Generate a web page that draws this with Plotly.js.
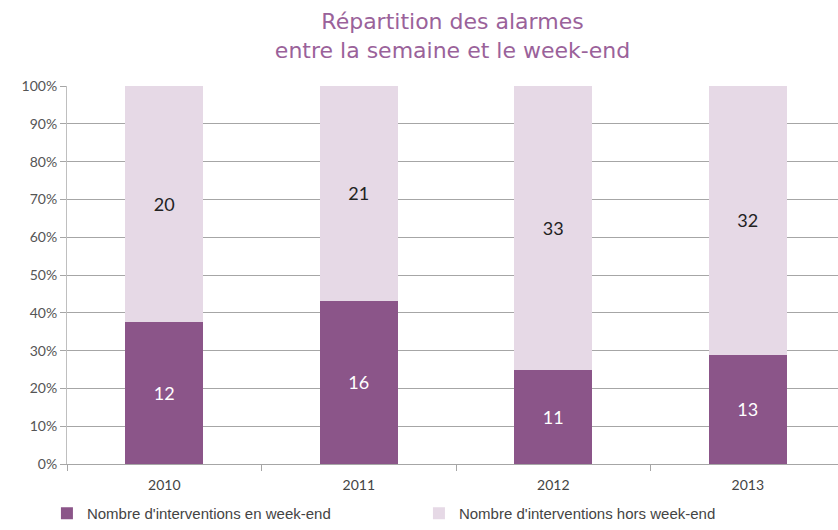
<!DOCTYPE html>
<html>
<head>
<meta charset="utf-8">
<script src="https://cdn.plot.ly/plotly-3.0.1.min.js"></script>
<style>html,body{margin:0;padding:0;background:#fff;}#chart{width:838px;height:530px;}</style>
</head>
<body>
<div id="chart"></div>
<script>
const years = ['2010', '2011', '2012', '2013'];
const weekend = [12, 16, 11, 13];
const weekdays = [20, 21, 33, 32];
const seriesNames = ["Nombre d'interventions en week-end", "Nombre d'interventions hors week-end"];

const font = 'Lato, "DejaVu Sans", sans-serif';

const traces = [
  {
    type: 'bar', x: years, y: weekend, name: seriesNames[0],
    marker: {color: '#8B5589'}, width: 0.4,
    text: weekend.map(String), texttemplate: '%{text}', textposition: 'inside',
    insidetextanchor: 'middle', textangle: 0,
    textfont: {color: '#ffffff', size: 18, family: font}, hoverinfo: 'none'
  },
  {
    type: 'bar', x: years, y: weekdays, name: seriesNames[1],
    marker: {color: '#E6D9E6'}, width: 0.4,
    text: weekdays.map(String), texttemplate: '%{text}', textposition: 'inside',
    insidetextanchor: 'middle', textangle: 0,
    textfont: {color: '#222222', size: 18, family: font}, hoverinfo: 'none'
  }
];

const layout = {
  width: 838, height: 530,
  margin: {l: 67, r: 0, t: 86, b: 66, autoexpand: false},
  paper_bgcolor: '#ffffff', plot_bgcolor: '#ffffff',
  barmode: 'stack', barnorm: 'percent',
  font: {family: font, color: '#555555'},
  title: {
    text: 'Répartition des alarmes<br>entre la semaine et le week-end',
    font: {family: '"DejaVu Sans", sans-serif', size: 22, color: '#9A629A'},
    x: 0.5, xref: 'paper', xanchor: 'center', yref: 'container', y: 0.945, yanchor: 'middle'
  },
  xaxis: {
    type: 'category', range: [-0.5, 3.464],
    showline: true, linecolor: '#A6A6A6', linewidth: 1,
    ticks: 'outside', tickson: 'boundaries', ticklen: 6, tickcolor: '#A6A6A6',
    ticklabelstandoff: 8,
    tickfont: {size: 14, color: '#444444', family: font},
    showgrid: false, fixedrange: true
  },
  yaxis: {
    range: [0, 100], dtick: 10, ticksuffix: '%',
    showgrid: true, gridcolor: '#A6A6A6', gridwidth: 1,
    showline: true, linecolor: '#BFBFBF', linewidth: 1,
    ticks: 'outside', ticklen: 6, tickcolor: '#A6A6A6',
    tickfont: {size: 14, color: '#555555', family: font},
    zeroline: false, fixedrange: true
  },
  showlegend: true,
  legend: {
    orientation: 'h', xref: 'container', x: 0.056, xanchor: 'left',
    yref: 'container', y: -0.014, yanchor: 'bottom',
    font: {size: 15, color: '#444444', family: '"Liberation Sans", sans-serif'},
    traceorder: 'normal', itemwidth: 30, entrywidth: 327, entrywidthmode: 'pixels'
  }
};

Plotly.newPlot('chart', traces, layout, {displayModeBar: false, staticPlot: true});
</script>
</body>
</html>
